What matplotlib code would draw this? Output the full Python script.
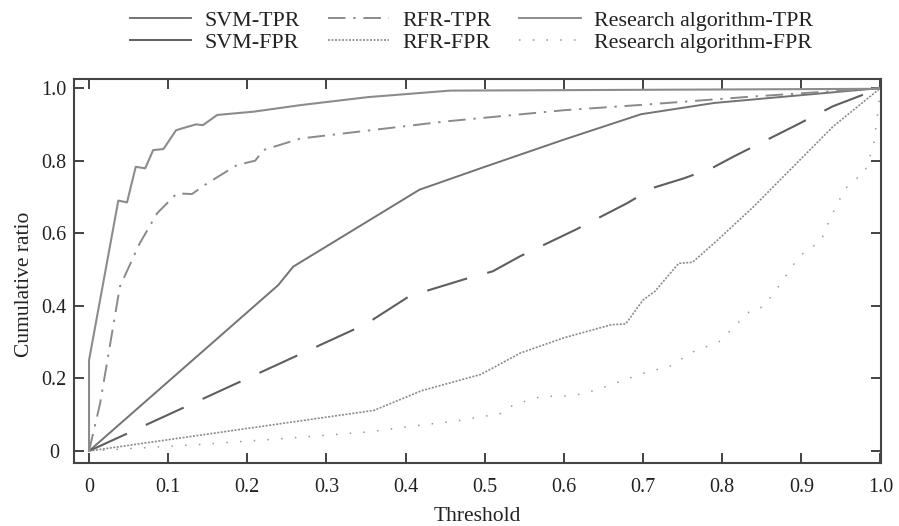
import matplotlib
matplotlib.use("Agg")
import matplotlib.pyplot as plt
from matplotlib.lines import Line2D

plt.rcParams['font.family'] = ['Liberation Serif', 'DejaVu Serif']

# Research algorithm
res_tpr_x = [0, 0.0, 0.037, 0.048, 0.059, 0.071, 0.081, 0.094, 0.110, 0.135, 0.144,
             0.162, 0.208, 0.267, 0.352, 0.456, 1.0]
res_tpr_y = [0, 0.25, 0.69, 0.685, 0.783, 0.779, 0.829, 0.832, 0.884, 0.900, 0.898,
             0.926, 0.935, 0.953, 0.975, 0.993, 0.998]

res_fpr_x = [0, 0.14, 0.25, 0.355, 0.41, 0.465, 0.503, 0.522, 0.536, 0.571, 0.608,
             0.627, 0.663, 0.697, 0.714, 0.731, 0.764, 0.796, 0.809, 0.836, 0.852,
             0.874, 0.895, 0.907, 0.924, 0.938, 0.955, 0.967, 0.979, 0.985, 0.991,
             0.996, 1.0]
res_fpr_y = [0, 0.018, 0.035, 0.053, 0.069, 0.083, 0.097, 0.104, 0.127, 0.150, 0.152,
             0.159, 0.185, 0.212, 0.223, 0.230, 0.274, 0.301, 0.329, 0.388, 0.397,
             0.462, 0.529, 0.555, 0.575, 0.648, 0.722, 0.747, 0.763, 0.800, 0.841,
             0.921, 1.0]

# RFR
rfr_tpr_x = [0, 0.014, 0.039, 0.064, 0.086, 0.111, 0.130, 0.149, 0.187, 0.210, 0.220,
             0.267, 0.45, 0.6, 0.7, 0.84, 1.0]
rfr_tpr_y = [0, 0.131, 0.453, 0.572, 0.655, 0.710, 0.708, 0.737, 0.788, 0.800, 0.829,
             0.861, 0.908, 0.939, 0.954, 0.977, 1.0]

rfr_fpr_x = [0, 0.36, 0.42, 0.495, 0.545, 0.6, 0.66, 0.678, 0.70, 0.715, 0.745,
             0.7625, 0.79, 0.84, 0.89, 0.94, 1.0]
rfr_fpr_y = [0, 0.112, 0.166, 0.211, 0.270, 0.312, 0.348, 0.350, 0.416, 0.440, 0.517,
             0.520, 0.573, 0.674, 0.784, 0.894, 1.0]

# SVM
svm_tpr_x = [0, 0.239, 0.258, 0.4175, 0.5, 0.6, 0.6975, 0.79, 1.0]
svm_tpr_y = [0, 0.457, 0.508, 0.720, 0.783, 0.858, 0.928, 0.959, 1.0]

svm_fpr_x = [0, 0.35, 0.405, 0.48, 0.51, 0.545, 0.615, 0.68, 0.7125, 0.7525, 0.7875,
             0.815, 0.89, 0.94, 1.0]
svm_fpr_y = [0, 0.350, 0.427, 0.477, 0.495, 0.537, 0.610, 0.683, 0.725, 0.752, 0.780,
             0.812, 0.894, 0.950, 1.0]

x_ticks = [0, 0.1, 0.2, 0.3, 0.4, 0.5, 0.6, 0.7, 0.8, 0.9, 1.0]
x_labels = ['0', '0.1', '0.2', '0.3', '0.4', '0.5', '0.6', '0.7', '0.8', '0.9', '1.0']
y_ticks = [0, 0.2, 0.4, 0.6, 0.8, 1.0]
y_labels = ['0', '0.2', '0.4', '0.6', '0.8', '1.0']

fig = plt.figure(figsize=(8.99, 5.26), dpi=100)
ax = fig.add_axes([0.0823, 0.1198, 0.898, 0.730])

ax.plot(svm_tpr_x, svm_tpr_y, color='#737373', lw=1.4, ls='-')
ax.plot(svm_fpr_x, svm_fpr_y, color='#5e5e5e', lw=1.5, dashes=(20, 10))
ax.plot(rfr_tpr_x, rfr_tpr_y, color='#8a8a8a', lw=1.4, dashes=(9, 4, 1.2, 4))
ax.plot(rfr_fpr_x, rfr_fpr_y, color='#8a8a8a', lw=1.2, dashes=(1.2, 0.9))
ax.plot(res_tpr_x, res_tpr_y, color='#8c8c8c', lw=1.5, ls='-')
ax.plot(res_fpr_x, res_fpr_y, color='#999999', lw=1.1, dashes=(1, 8))

ax.set_xlim(-0.019, 1.001)
ax.set_ylim(-0.033, 1.025)
ax.set_xticks(x_ticks)
ax.set_xticklabels(x_labels)
ax.set_yticks(y_ticks)
ax.set_yticklabels(y_labels, ha='center')
ax.tick_params(direction='in', length=7, width=1.2, top=True, right=True,
               labelsize=14.5, colors='#222222')
ax.tick_params(axis='x', pad=11)
ax.tick_params(axis='y', pad=14.5)
for s in ax.spines.values():
    s.set_linewidth(1.5)
    s.set_color('#444444')

ax.set_xlabel('Threshold', fontsize=15.5, color='#222222', labelpad=7)
ax.set_ylabel('Cumulative ratio', fontsize=15.5, color='#222222', labelpad=8)
ax.yaxis.set_label_coords(-0.049, 0.466)

handles = [
    Line2D([], [], color='#737373', lw=1.4, ls='-'),
    Line2D([], [], color='#5e5e5e', lw=1.4, ls='-'),
    Line2D([], [], color='#8a8a8a', lw=1.4, dashes=(9, 4, 1.2, 4)),
    Line2D([], [], color='#8a8a8a', lw=1.2, dashes=(1.2, 0.9)),
    Line2D([], [], color='#8c8c8c', lw=1.4, ls='-'),
    Line2D([], [], color='#999999', lw=1.1, dashes=(1, 8)),
]
labels = ['SVM-TPR', 'SVM-FPR', 'RFR-TPR', 'RFR-FPR',
          'Research algorithm-TPR', 'Research algorithm-FPR']
fig.legend(handles, labels, ncol=3, loc='upper center', bbox_to_anchor=(0.5245, 1.018),
           frameon=False, fontsize=15.8, handlelength=2.8, handletextpad=0.6,
           columnspacing=1.27, labelspacing=0.08, labelcolor='#222222')

fig.savefig('out.png', dpi=100)
